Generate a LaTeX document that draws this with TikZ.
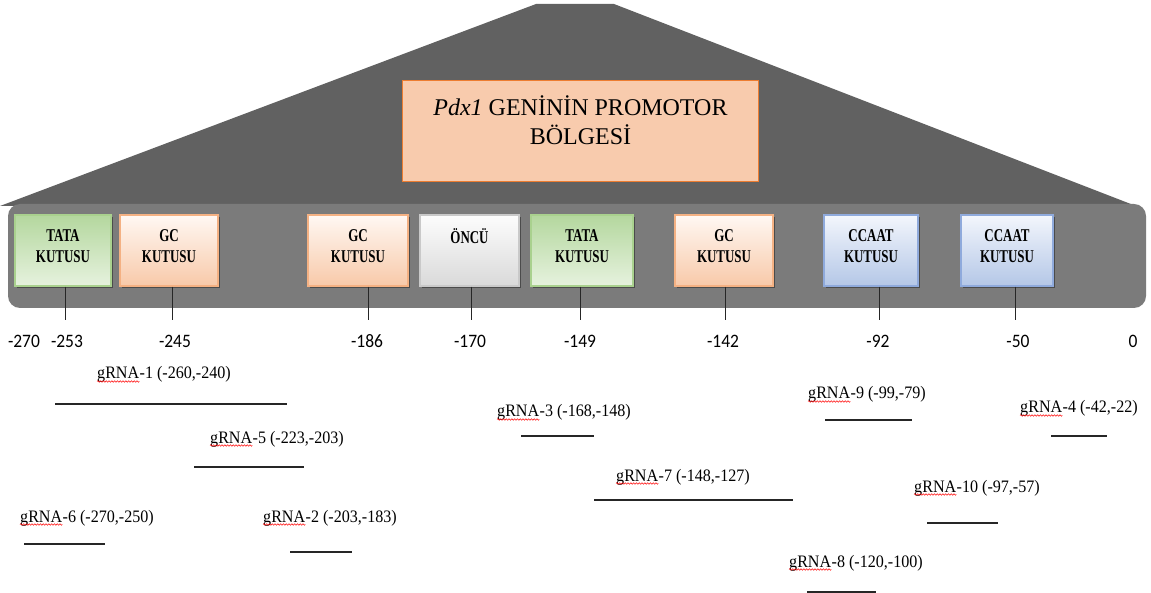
\documentclass[tikz,border=0pt]{standalone}
\usepackage{fontspec}
\setmainfont{Liberation Serif}
\newfontfamily\titlefont[Ligatures=TeX]{Liberation Serif}
\newfontfamily\numfont[FakeStretch=0.92]{Carlito}
\newfontfamily\boxfont[FakeStretch=0.72,BoldFont={Liberation Serif Bold}]{Liberation Serif}
\newfontfamily\grnafont[FakeStretch=0.92]{Liberation Serif}
\usetikzlibrary{positioning,shadows,decorations.pathmorphing}
\definecolor{roofgray}{HTML}{616161}
\definecolor{bandgray}{HTML}{7B7B7B}
\definecolor{titlefill}{HTML}{F8CBAD}
\definecolor{titleedge}{HTML}{ED7D31}
\definecolor{tataedge}{HTML}{A9D18E}\definecolor{tatatop}{HTML}{B4D79E}\definecolor{tatabot}{HTML}{E6F2DE}
\definecolor{gcedge}{HTML}{F4B183}\definecolor{gctop}{HTML}{FFF8F3}\definecolor{gcbot}{HTML}{F8C9A9}
\definecolor{oncuedge}{HTML}{C9C9C9}\definecolor{oncutop}{HTML}{FDFDFD}\definecolor{oncubot}{HTML}{D9D9D9}
\definecolor{ccaatedge}{HTML}{8FAADC}\definecolor{ccaattop}{HTML}{F3F6FC}\definecolor{ccaatbot}{HTML}{B4C7E7}
\tikzset{element/.style={rectangle,draw,line width=1.3pt,minimum height=71pt,inner sep=0pt,align=center,text depth=8pt,font=\boxfont\bfseries\fontsize{18}{21}\selectfont,drop shadow={shadow xshift=1.5pt,shadow yshift=-2.5pt,fill=black!75,opacity=.8}},
tatabox/.style={element,draw=tataedge,top color=tatatop,bottom color=tatabot},
gcbox/.style={element,draw=gcedge,top color=gctop,bottom color=gcbot},
oncubox/.style={element,draw=oncuedge,top color=oncutop,bottom color=oncubot},
ccaatbox/.style={element,draw=ccaatedge,top color=ccaattop,bottom color=ccaatbot},
tickline/.style={line width=1pt,black!85},
poslabel/.style={font=\numfont\fontsize{19}{19}\selectfont,inner sep=0pt},
grnaword/.style={font=\grnafont\fontsize{17.5}{18}\selectfont,inner sep=0pt,anchor=base west},
gspan/.style={line width=1.4pt,black!85},
spell/.style={red,line width=.5pt,decorate,decoration={snake,amplitude=.8pt,segment length=2.8pt}}}
\begin{document}
\begin{tikzpicture}[x=1pt,y=-1pt]
\useasboundingbox (0,0) rectangle (1151,593);
% promoter shape
\fill[roofgray] (0,206)--(536,4)--(614,4)--(1136,206)--cycle;
\fill[bandgray,rounded corners=12pt] (8,204) rectangle (1146,308);
\node[draw=titleedge,fill=titlefill,line width=1pt,minimum width=356pt,minimum height=101pt,align=center,text depth=22pt,font=\titlefont\fontsize{24}{29}\selectfont] (title) at (580.5,131) {\textit{Pdx1} GENİNİN PROMOTOR\\BÖLGESİ};
% boxes
\foreach \n/\x/\w/\s/\t in {tata1/63/96/tatabox/TATA,gc1/169/98/gcbox/GC,gc2/358/100/gcbox/GC,tata2/582/102/tatabox/TATA,gc3/724/98/gcbox/GC,ccaat1/871/94/ccaatbox/CCAAT,ccaat2/1007/92/ccaatbox/CCAAT}{
\node[\s,minimum width=\w pt] (\n) at (\x,250.5) {\t\\KUTUSU};
}
\node[oncubox,minimum width=99pt] (oncu) at (469.5,250.5) {ÖNCÜ\\\phantom{K}};
% positions
\foreach \n/\x/\lx/\t in {tata1/65/67/253,gc1/172/175/245,gc2/368/367/186,oncu/471/470/170,tata2/580/580/149,gc3/725/723/142,ccaat1/879/878/92,ccaat2/1015/1018/50}{
\coordinate (p\t) at (\x,320);
\draw[tickline] (\n.south -| p\t) -- (p\t);
\node[poslabel] (l\t) at (\lx,341) {-\t};
}
\node[poslabel] (l270) at (24,341) {-270};
\node[poslabel] (l0) at (1133,341) {0};
% guide RNAs
\foreach \i/\x/\y/\r/\a/\b/\h in {1/97/379/{-1 (-260,-240)}/55/287/404,5/210/443/{-5 (-223,-203)}/194/304/467,6/20/522/{-6 (-270,-250)}/24/105/544,2/263/522/{-2 (-203,-183)}/290/352/552,3/497/417/{-3 (-168,-148)}/521/594/436,7/616/481/{-7 (-148,-127)}/594/793/500,9/808/399/{-9 (-99,-79)}/825/912/420,4/1020/413/{-4 (-42,-22)}/1051/1107/436,10/914/492/{-10 (-97,-57)}/927/998/523,8/789/567/{-8 (-120,-100)}/807/876/592}{
\node[grnaword] (w\i) at (\x,\y) {gRNA};
\node[grnaword] (r\i) at (w\i.base east) {\r};
\draw[spell] ([yshift=-2.5pt]w\i.base west) -- ([yshift=-2.5pt]w\i.base east);
\coordinate (s\i) at (\a,\h);
\coordinate (e\i) at (\b,\h);
\draw[gspan] (s\i) -- (e\i);
}
\end{tikzpicture}
\end{document}
